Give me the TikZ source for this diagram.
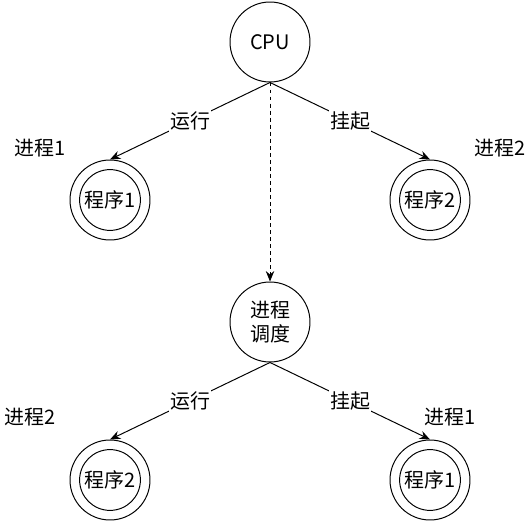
\documentclass[tikz,border=0pt]{standalone}
\usepackage{fontspec}
\setmainfont{Noto Sans CJK SC}
\usetikzlibrary{arrows.meta, positioning}
\tikzset{
  state/.style={circle, draw, minimum size=2cm, inner sep=0pt, align=center},
  edgelabel/.style={fill=white, inner sep=1pt},
  tip/.style={-{Stealth[length=2.6mm, width=2.1mm]}}
}

\begin{document}
\begin{tikzpicture}[line width=0.7pt, font=\fontsize{14.2}{17}\selectfont]
    \useasboundingbox (0,0) rectangle (13.275,-13.025);
    % cpu and scheduler
    \node[state] (cpu) at (6.75,-1.05) {CPU};
    \node[state] (sched) at (6.75,-8.05) {进程\\调度};
    % programs
    \node[state] (prog1) at (2.75,-5) {程序1};
    \node[state] (prog2) at (10.75,-5) {程序2};
    \node[state] (prog3) at (2.75,-12) {程序2};
    \node[state] (prog4) at (10.75,-12) {程序1};
    \foreach \p in {prog1,prog2,prog3,prog4}{
      \draw (\p.center) circle (0.76cm);
    }
    % process names
    \node (name1) at (1.0,-3.7) {进程1};
    \node (name2) at (12.5,-3.7) {进程2};
    \node (name3) at (0.75,-10.425) {进程2};
    \node (name4) at (11.25,-10.425) {进程1};
    % connectors
    \draw[tip] (cpu.south) -- node[edgelabel] {运行} (prog1.north);
    \draw[tip] (cpu.south) -- node[edgelabel] {挂起} (prog2.north);
    \draw[tip, dash pattern=on 2.8pt off 2.2pt] (cpu.south) -- (sched.north);
    \draw[tip] (sched.south) -- node[edgelabel] {运行} (prog3.north);
    \draw[tip] (sched.south) -- node[edgelabel] {挂起} (prog4.north);
  \end{tikzpicture}
\end{document}
